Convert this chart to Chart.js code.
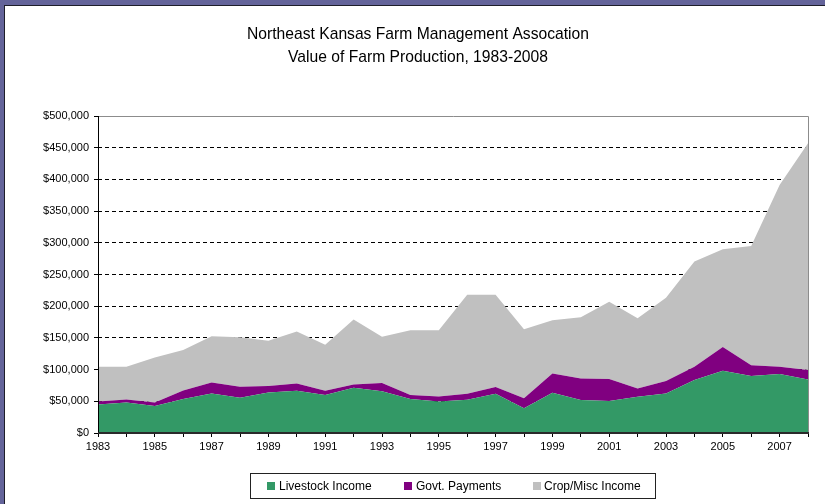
<!DOCTYPE html>
<html><head><meta charset="utf-8">
<script src="https://cdn.jsdelivr.net/npm/chart.js@4"></script>
<style>
html,body{margin:0;padding:0;background:#64649a;width:825px;height:504px;overflow:hidden}
#frame{position:absolute;left:4px;top:5px;width:821px;height:499px;background:#fff;border-left:1px solid #1e1e2a;border-top:1px solid #1e1e2a;box-sizing:border-box}
canvas{position:absolute;left:5px;top:6px}
</style></head><body>
<div id="frame"></div>
<canvas id="c" width="820" height="498"></canvas>
<script>
const titleLines = ['Northeast Kansas Farm Management Assocation', 'Value of Farm Production, 1983-2008'];
const years = ['1983','1984','1985','1986','1987','1988','1989','1990','1991','1992','1993','1994','1995','1996','1997','1998','1999','2000','2001','2002','2003','2004','2005','2006','2007','2008'];
const livestock = [45000,48000,42500,53500,62500,55500,64000,66500,60000,71500,66000,53500,49500,52500,62000,39000,63500,52000,50500,57000,62500,83500,98000,90000,93000,84500];
const govt = [4500,5000,5500,13500,17000,17500,10000,11500,6500,5000,13000,6500,8000,9500,10500,16000,30500,34000,34500,13000,19500,21000,37500,17000,11500,15000];
const crop = [55000,51500,71000,64000,73000,78000,71500,82000,72500,102500,73000,102000,104500,156000,145500,108500,84000,96500,122000,111000,131500,166000,154500,188000,286500,357500];
const seriesNames = ['Livestock Income', 'Govt. Payments', 'Crop/Misc Income'];
const seriesColors = ['#339966', '#800080', '#c0c0c0'];
const yMin = 0, yMax = 500000, yStep = 50000;

const FONT = '"Liberation Sans", Arial, sans-serif';

const framePlugin = {
  id: 'framePlugin',
  afterDatasetsDraw(chart) {
    const {ctx, chartArea: a} = chart;
    ctx.save();
    ctx.lineWidth = 1;
    ctx.strokeStyle = '#8c8c8c';
    ctx.beginPath();
    ctx.moveTo(a.left, a.top + 0.5);
    ctx.lineTo(a.right + 0.5, a.top + 0.5);
    ctx.lineTo(a.right + 0.5, a.bottom);
    ctx.stroke();
    ctx.strokeStyle = '#000';
    ctx.beginPath();
    ctx.moveTo(a.left + 0.5, a.top);
    ctx.lineTo(a.left + 0.5, a.bottom);
    ctx.stroke();
    ctx.lineWidth = 2;
    ctx.strokeStyle = '#2a2a2a';
    ctx.beginPath();
    ctx.moveTo(a.left, a.bottom);
    ctx.lineTo(a.right + 1, a.bottom);
    ctx.stroke();
    ctx.restore();
  },
  afterDraw(chart) {
    const ctx = chart.ctx;
    ctx.save();
    // title
    ctx.fillStyle = '#000';
    ctx.font = '17px ' + FONT;
    ctx.textAlign = 'center';
    ctx.textBaseline = 'alphabetic';
    const w0 = ctx.measureText(titleLines[0]).width;
    const sx = 342 / w0;
    const baselines = [32.5, 55.8];
    titleLines.forEach((t, i) => {
      ctx.save();
      ctx.translate(413, baselines[i]);
      ctx.scale(sx, 1);
      ctx.fillText(t, 0, 0);
      ctx.restore();
    });
    // legend
    ctx.strokeStyle = '#222';
    ctx.lineWidth = 1;
    ctx.strokeRect(245.5, 467.5, 405, 25);
    const sqX = [262, 399, 528];
    const txX = [274, 411, 539];
    ctx.font = '12px ' + FONT;
    ctx.textAlign = 'left';
    ctx.textBaseline = 'middle';
    chart.data.datasets.forEach((ds, i) => {
      ctx.fillStyle = ds.backgroundColor;
      ctx.fillRect(sqX[i], 476, 8, 8);
      ctx.fillStyle = '#000';
      ctx.fillText(ds.label, txX[i], 480.5);
    });
    ctx.restore();
  }
};

new Chart(document.getElementById('c'), {
  type: 'line',
  data: {
    labels: years,
    datasets: [
      {label: seriesNames[0], data: livestock, backgroundColor: seriesColors[0], borderColor: seriesColors[0], fill: 'origin'},
      {label: seriesNames[1], data: govt, backgroundColor: seriesColors[1], borderColor: seriesColors[1], fill: '-1'},
      {label: seriesNames[2], data: crop, backgroundColor: seriesColors[2], borderColor: seriesColors[2], fill: '-1'}
    ]
  },
  options: {
    responsive: false,
    animation: false,
    events: [],
    layout: {padding: {top: 110, left: 0, right: 17, bottom: 41}},
    elements: {point: {radius: 0}, line: {borderWidth: 0, tension: 0}},
    plugins: {legend: {display: false}, title: {display: false}, tooltip: {enabled: false}, filler: {propagate: false}},
    scales: {
      x: {
        offset: false,
        afterFit(s) { s.height = 30; },
        grid: {display: true, drawOnChartArea: false, drawTicks: true, tickLength: 4, tickColor: '#000', color: '#000'},
        border: {display: false},
        ticks: {
          autoSkip: false, maxRotation: 0, minRotation: 0, padding: 3,
          color: '#000', font: {family: FONT, size: 11},
          callback(v, i) { return i % 2 === 0 ? years[i] : ''; }
        }
      },
      y: {
        stacked: true,
        min: yMin, max: yMax,
        afterFit(s) { s.width = 93; },
        grid: {
          display: true, drawTicks: true, tickLength: 4,
          color: (c) => (c.tick && (c.tick.value === yMin || c.tick.value === yMax)) ? 'rgba(0,0,0,0)' : '#000',
          tickColor: '#000', lineWidth: 1, tickBorderDash: [100, 0]
        },
        border: {display: false, dash: [4, 3]},
        ticks: {
          stepSize: yStep, padding: 5, color: '#000', font: {family: FONT, size: 11},
          callback(v) { return '$' + Number(v).toLocaleString('en-US'); }
        }
      }
    }
  },
  plugins: [framePlugin]
});
</script>
</body></html>
